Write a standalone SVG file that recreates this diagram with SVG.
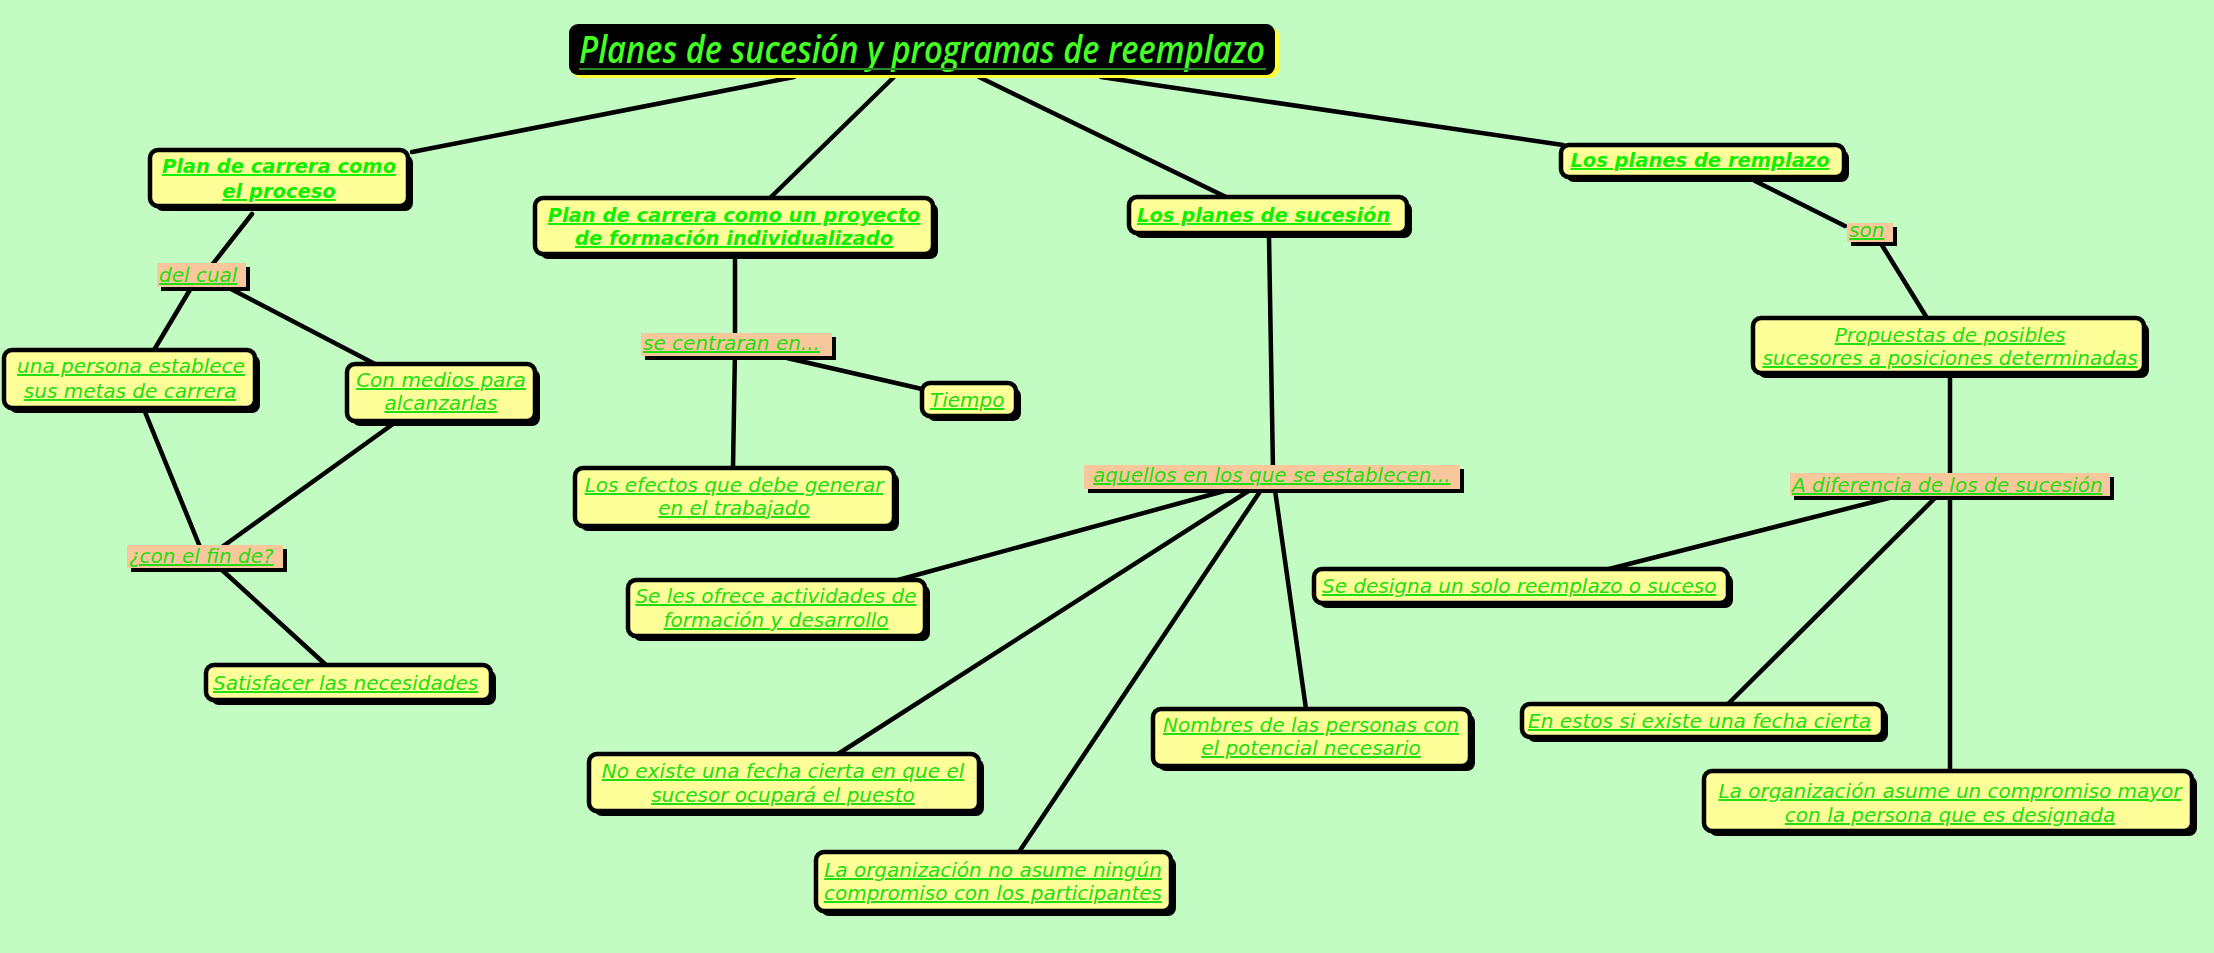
<svg xmlns="http://www.w3.org/2000/svg" width="2214" height="953" viewBox="0 0 2214 953">
<style>
.bg{fill:#c3fcc3}
.sh{fill:#000}
.box{fill:#ffff99;stroke:#000;stroke-width:4.5}
.lp{fill:#f8c89c}
.t{font-family:"DejaVu Sans",Verdana,sans-serif;font-style:oblique;font-size:20px;fill:#22dd11;text-decoration:underline}
.b{font-weight:bold;font-size:19.5px;fill:#11ee00}
.c{text-anchor:middle}
#edges line{stroke:#000;stroke-width:4.5;stroke-linecap:round}
</style>
<rect class="bg" x="0" y="0" width="2214" height="953"/>
<g id="edges">
<line x1="794" y1="77" x2="412" y2="152"/>
<line x1="894" y1="77" x2="770" y2="198"/>
<line x1="979" y1="77" x2="1226" y2="197"/>
<line x1="1101" y1="77" x2="1563" y2="145"/>
<line x1="252" y1="214" x2="212" y2="265"/>
<line x1="191" y1="288" x2="154" y2="350"/>
<line x1="229" y1="288" x2="375" y2="364"/>
<line x1="145" y1="412" x2="200" y2="547"/>
<line x1="393" y1="424" x2="222" y2="547"/>
<line x1="222" y1="570" x2="326" y2="665"/>
<line x1="735" y1="258" x2="735" y2="340"/>
<line x1="735" y1="350" x2="733" y2="468"/>
<line x1="787" y1="358" x2="922" y2="389"/>
<line x1="1269" y1="237" x2="1273" y2="470"/>
<line x1="1228" y1="490" x2="898" y2="580"/>
<line x1="1250" y1="490" x2="838" y2="754"/>
<line x1="1261" y1="490" x2="1019" y2="852"/>
<line x1="1275" y1="490" x2="1306" y2="709"/>
<line x1="1755" y1="181" x2="1845" y2="226"/>
<line x1="1880" y1="242" x2="1927" y2="318"/>
<line x1="1950" y1="375" x2="1950" y2="771"/>
<line x1="1889" y1="498" x2="1609" y2="569"/>
<line x1="1935" y1="498" x2="1728" y2="704"/>
</g>
<g id="title">
<rect x="572" y="27" width="707" height="51" rx="9" fill="#ffff33"/>
<rect x="569" y="24" width="706" height="51" rx="9" fill="#000"/>
<text x="922" y="63" text-anchor="middle" textLength="686" lengthAdjust="spacingAndGlyphs" font-family="'Open Sans',sans-serif" font-style="italic" font-weight="600" font-size="37" fill="#44ff22">Planes de sucesión y programas de reemplazo</text>
<line x1="579" y1="69" x2="1266" y2="69" stroke="#2a8a2a" stroke-width="2"/>
</g>
<g id="n-proceso">
<rect class="sh" x="155" y="155" width="258" height="56" rx="8"/>
<rect class="box" x="150" y="150" width="258" height="56" rx="8"/>
<text class="t b c" x="279" y="173">Plan de carrera como</text>
<text class="t b c" x="279" y="198">el proceso</text>
</g>
<g id="n-proyecto">
<rect class="sh" x="540" y="203" width="398" height="56" rx="8"/>
<rect class="box" x="535" y="198" width="398" height="56" rx="8"/>
<text class="t b c" x="734" y="222">Plan de carrera como un proyecto</text>
<text class="t b c" x="734" y="245">de formación individualizado</text>
</g>
<g id="n-sucesion">
<rect class="sh" x="1134" y="202" width="278" height="36" rx="8"/>
<rect class="box" x="1129" y="197" width="278" height="36" rx="8"/>
<text class="t b" x="1137" y="222">Los planes de sucesión </text>
</g>
<g id="n-remplazo">
<rect class="sh" x="1566" y="150" width="283" height="32" rx="8"/>
<rect class="box" x="1561" y="145" width="283" height="32" rx="8"/>
<text class="t b c" x="1700" y="167">Los planes de remplazo</text>
</g>
<g id="l-delcual">
<rect class="sh" x="161" y="267" width="89" height="24"/>
<rect class="lp" x="157" y="263" width="89" height="24"/>
<text class="t" x="159" y="282">del cual </text>
</g>
<g id="n-persona">
<rect class="sh" x="9" y="355" width="251" height="58" rx="8"/>
<rect class="box" x="4" y="350" width="251" height="58" rx="8"/>
<text class="t c" x="131" y="373"> una persona establece</text>
<text class="t c" x="130" y="398">sus metas de carrera</text>
</g>
<g id="n-medios">
<rect class="sh" x="352" y="369" width="188" height="57" rx="8"/>
<rect class="box" x="347" y="364" width="188" height="57" rx="8"/>
<text class="t c" x="441" y="387">Con medios para</text>
<text class="t c" x="441" y="410">alcanzarlas</text>
</g>
<g id="l-fin">
<rect class="sh" x="131" y="549" width="156" height="23"/>
<rect class="lp" x="127" y="545" width="156" height="23"/>
<text class="t" x="129" y="563">¿con el fin de? </text>
</g>
<g id="n-satisfacer">
<rect class="sh" x="211" y="670" width="285" height="35" rx="8"/>
<rect class="box" x="206" y="665" width="285" height="35" rx="8"/>
<text class="t" x="213" y="690">Satisfacer las necesidades </text>
</g>
<g id="l-centraran">
<rect class="sh" x="645" y="337" width="191" height="23"/>
<rect class="lp" x="641" y="333" width="191" height="23"/>
<text class="t" x="643" y="350">se centraran en... </text>
</g>
<g id="n-tiempo">
<rect class="sh" x="927" y="388" width="94" height="33" rx="8"/>
<rect class="box" x="922" y="383" width="94" height="33" rx="8"/>
<text class="t" x="930" y="407">Tiempo</text>
</g>
<g id="n-efectos">
<rect class="sh" x="580" y="473" width="319" height="58" rx="8"/>
<rect class="box" x="575" y="468" width="319" height="58" rx="8"/>
<text class="t c" x="734" y="492">Los efectos que debe generar</text>
<text class="t c" x="734" y="515">en el trabajado</text>
</g>
<g id="l-aquellos">
<rect class="sh" x="1088" y="469" width="376" height="24"/>
<rect class="lp" x="1084" y="465" width="376" height="24"/>
<text class="t" x="1093" y="482"> aquellos en los que se establecen... </text>
</g>
<g id="n-ofrece">
<rect class="sh" x="633" y="585" width="297" height="56" rx="8"/>
<rect class="box" x="628" y="580" width="297" height="56" rx="8"/>
<text class="t c" x="776" y="603">Se les ofrece actividades de</text>
<text class="t c" x="776" y="627">formación y desarrollo</text>
</g>
<g id="n-noexiste">
<rect class="sh" x="594" y="759" width="390" height="57" rx="8"/>
<rect class="box" x="589" y="754" width="390" height="57" rx="8"/>
<text class="t c" x="783" y="778">No existe una fecha cierta en que el </text>
<text class="t c" x="783" y="802">sucesor ocupará el puesto</text>
</g>
<g id="n-noasume">
<rect class="sh" x="821" y="857" width="355" height="59" rx="8"/>
<rect class="box" x="816" y="852" width="355" height="59" rx="8"/>
<text class="t c" x="993" y="877">La organización no asume ningún</text>
<text class="t c" x="993" y="900">compromiso con los participantes</text>
</g>
<g id="n-nombres">
<rect class="sh" x="1158" y="714" width="317" height="57" rx="8"/>
<rect class="box" x="1153" y="709" width="317" height="57" rx="8"/>
<text class="t c" x="1311" y="732">Nombres de las personas con</text>
<text class="t c" x="1311" y="755">el potencial necesario</text>
</g>
<g id="l-son">
<rect class="sh" x="1851" y="227" width="46" height="19"/>
<rect class="lp" x="1847" y="223" width="46" height="19"/>
<text class="t" x="1849" y="237">son </text>
</g>
<g id="n-propuestas">
<rect class="sh" x="1758" y="323" width="391" height="55" rx="8"/>
<rect class="box" x="1753" y="318" width="391" height="55" rx="8"/>
<text class="t c" x="1950" y="342">Propuestas de posibles</text>
<text class="t c" x="1950" y="365">sucesores a posiciones determinadas</text>
</g>
<g id="l-diferencia">
<rect class="sh" x="1794" y="477" width="320" height="23"/>
<rect class="lp" x="1790" y="473" width="320" height="23"/>
<text class="t" x="1792" y="492">A diferencia de los de sucesión </text>
</g>
<g id="n-designa">
<rect class="sh" x="1319" y="574" width="414" height="34" rx="8"/>
<rect class="box" x="1314" y="569" width="414" height="34" rx="8"/>
<text class="t" x="1322" y="593">Se designa un solo reemplazo o suceso</text>
</g>
<g id="n-enestos">
<rect class="sh" x="1527" y="709" width="361" height="33" rx="8"/>
<rect class="box" x="1522" y="704" width="361" height="33" rx="8"/>
<text class="t" x="1528" y="728">En estos si existe una fecha cierta </text>
</g>
<g id="n-mayor">
<rect class="sh" x="1709" y="776" width="488" height="60" rx="8"/>
<rect class="box" x="1704" y="771" width="488" height="60" rx="8"/>
<text class="t c" x="1950" y="798">La organización asume un compromiso mayor </text>
<text class="t c" x="1950" y="822">con la persona que es designada</text>
</g>
</svg>
